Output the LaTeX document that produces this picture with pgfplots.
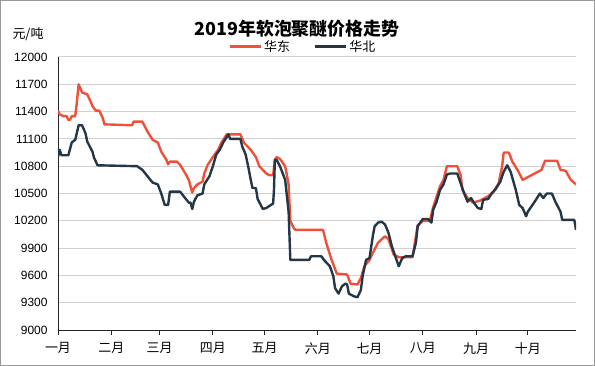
\documentclass[border=0pt]{standalone}
\usepackage{fontspec}
\setmainfont{Liberation Sans}
\newfontfamily\cjk{Noto Sans CJK SC}
\usepackage{pgfplots}
\pgfplotsset{compat=1.18}
\definecolor{east}{HTML}{F0503A}
\definecolor{north}{HTML}{243746}
\begin{document}
\begin{tikzpicture}
\useasboundingbox (-58bp,-36bp) rectangle (537bp,330bp);
\draw[gray!80, line width=1bp] (-57.5bp,-35.5bp) rectangle (536.5bp,329.5bp);
\begin{axis}[
  at={(0,0)}, anchor=south west,
  scale only axis, width=518bp, height=273bp,
  xmin=0, xmax=301, ymin=9000, ymax=12000,
  ytick={9000,9300,...,12000},
  scaled y ticks=false,
  yticklabel={\pgfmathprintnumber[fixed,precision=0,1000 sep={},assume math mode=true]{\tick}},
  xtick={0,31,59,90,120,151,181,212,243,273},
  xticklabels={一月,二月,三月,四月,五月,六月,七月,八月,九月,十月},
  axis x line*=bottom, axis y line*=left,
  axis line style={line width=1bp, black!85},
  ymajorgrids, grid style={color=black!18, line width=1bp},
  tick align=outside, major tick length=5bp,
  xtick style={line width=1bp, black!85},
  ytick style={draw=none},
  xticklabel style={font=\cjk\fontsize{13}{15}\selectfont, yshift=-4bp},
  yticklabel style={font=\fontsize{12}{14}\selectfont, xshift=-2bp},
  legend style={at={(0.473,1)}, anchor=south, draw=none, fill=none,
    legend columns=2, font=\cjk\fontsize{13}{15}\selectfont,
    /tikz/every even column/.append style={column sep=22bp}},
  legend image code/.code={\draw[#1] (0bp,0bp) -- (31bp,0bp);},
]
\addplot[east, line width=2.4pt, line join=round] coordinates {
(0,11410)(1,11370)(3,11350)(5,11350)(6,11310)(7,11310)(8,11350)(10,11350)(11,11510)(12,11700)(14,11610)(17,11590)(19,11510)(20,11460)(22,11410)(24,11410)(26,11330)(27,11260)(43,11250)(44,11290)(49,11290)(52,11180)(55,11090)(58,11060)(60,10960)(63,10870)(64,10820)(65,10850)(69,10850)(71,10815)(74,10720)(76,10650)(78,10510)(79,10560)(81,10600)(84,10630)(85,10720)(87,10815)(90,10900)(93,10980)(95,11060)(98,11150)(106,11150)(108,11060)(112,10980)(115,10900)(117,10800)(121,10720)(123,10700)(125,10700)(126,10870)(127,10900)(129,10880)(132,10800)(134,10600)(135,10200)(137,10120)(138,10100)(154,10100)(156,9950)(159,9770)(162,9620)(168,9610)(170,9510)(174,9500)(176,9570)(178,9700)(181,9770)(183,9850)(186,9960)(190,10030)(192,10000)(195,9830)(198,9800)(206,9800)(209,10150)(212,10200)(216,10200)(218,10350)(222,10580)(224,10650)(226,10800)(232,10800)(234,10700)(235,10540)(238,10450)(241,10400)(245,10420)(250,10470)(253,10520)(256,10610)(258,10790)(259,10950)(262,10950)(264,10850)(267,10760)(270,10650)(278,10730)(281,10760)(283,10860)(290,10860)(292,10760)(295,10750)(298,10650)(301,10600)
};
\addlegendentry{华东}
\addplot[north, line width=2.4pt, line join=round] coordinates {
(0,10900)(1,10980)(2,10920)(6,10920)(8,11060)(10,11090)(12,11250)(14,11250)(16,11160)(17,11070)(20,10960)(21,10890)(23,10810)(46,10800)(49,10760)(52,10690)(55,10620)(58,10600)(60,10500)(62,10375)(64,10375)(65,10520)(71,10520)(73,10470)(76,10400)(77,10400)(78,10330)(79,10410)(81,10480)(84,10500)(85,10600)(88,10690)(90,10800)(92,10930)(94,10980)(96,11060)(99,11150)(100,11100)(106,11100)(107,11020)(109,10930)(110.5,10800)(112,10650)(113,10560)(115,10560)(116,10440)(119,10330)(121,10340)(125,10390)(125.5,10540)(126,10870)(127,10870)(129,10800)(132,10650)(134,10300)(135,9770)(146,9770)(147,9810)(153,9810)(155,9760)(158,9700)(160,9590)(161,9460)(163,9400)(165,9480)(167,9510)(168,9500)(169,9400)(172,9370)(174,9360)(176,9440)(177,9590)(179,9770)(181,9790)(183,10040)(184,10140)(186,10180)(188,10190)(190,10160)(192,10070)(194,9920)(196,9810)(198,9700)(200,9790)(202,9810)(206,9810)(208,9960)(209,10140)(212,10220)(215,10220)(217,10180)(218,10320)(220,10410)(222,10540)(224,10600)(226,10710)(228,10720)(232,10720)(234,10610)(236,10500)(238,10410)(240,10450)(242,10390)(244,10340)(246,10330)(247,10430)(250,10440)(252,10500)(254,10540)(257,10630)(259,10740)(261,10810)(263,10740)(266,10540)(268,10375)(270,10340)(272,10250)(273,10300)(277,10410)(280,10500)(282,10450)(284,10500)(287,10500)(289,10410)(292,10300)(293,10210)(300,10210)(301,10100)
};
\addlegendentry{华北}
\end{axis}
\node[font=\cjk\bfseries\fontsize{18}{20}\selectfont] at (239bp,301bp) {2019年软泡聚醚价格走势};
\node[font=\cjk\fontsize{13}{15}\selectfont] at (-30bp,296bp) {元/吨};
\end{tikzpicture}
\end{document}
